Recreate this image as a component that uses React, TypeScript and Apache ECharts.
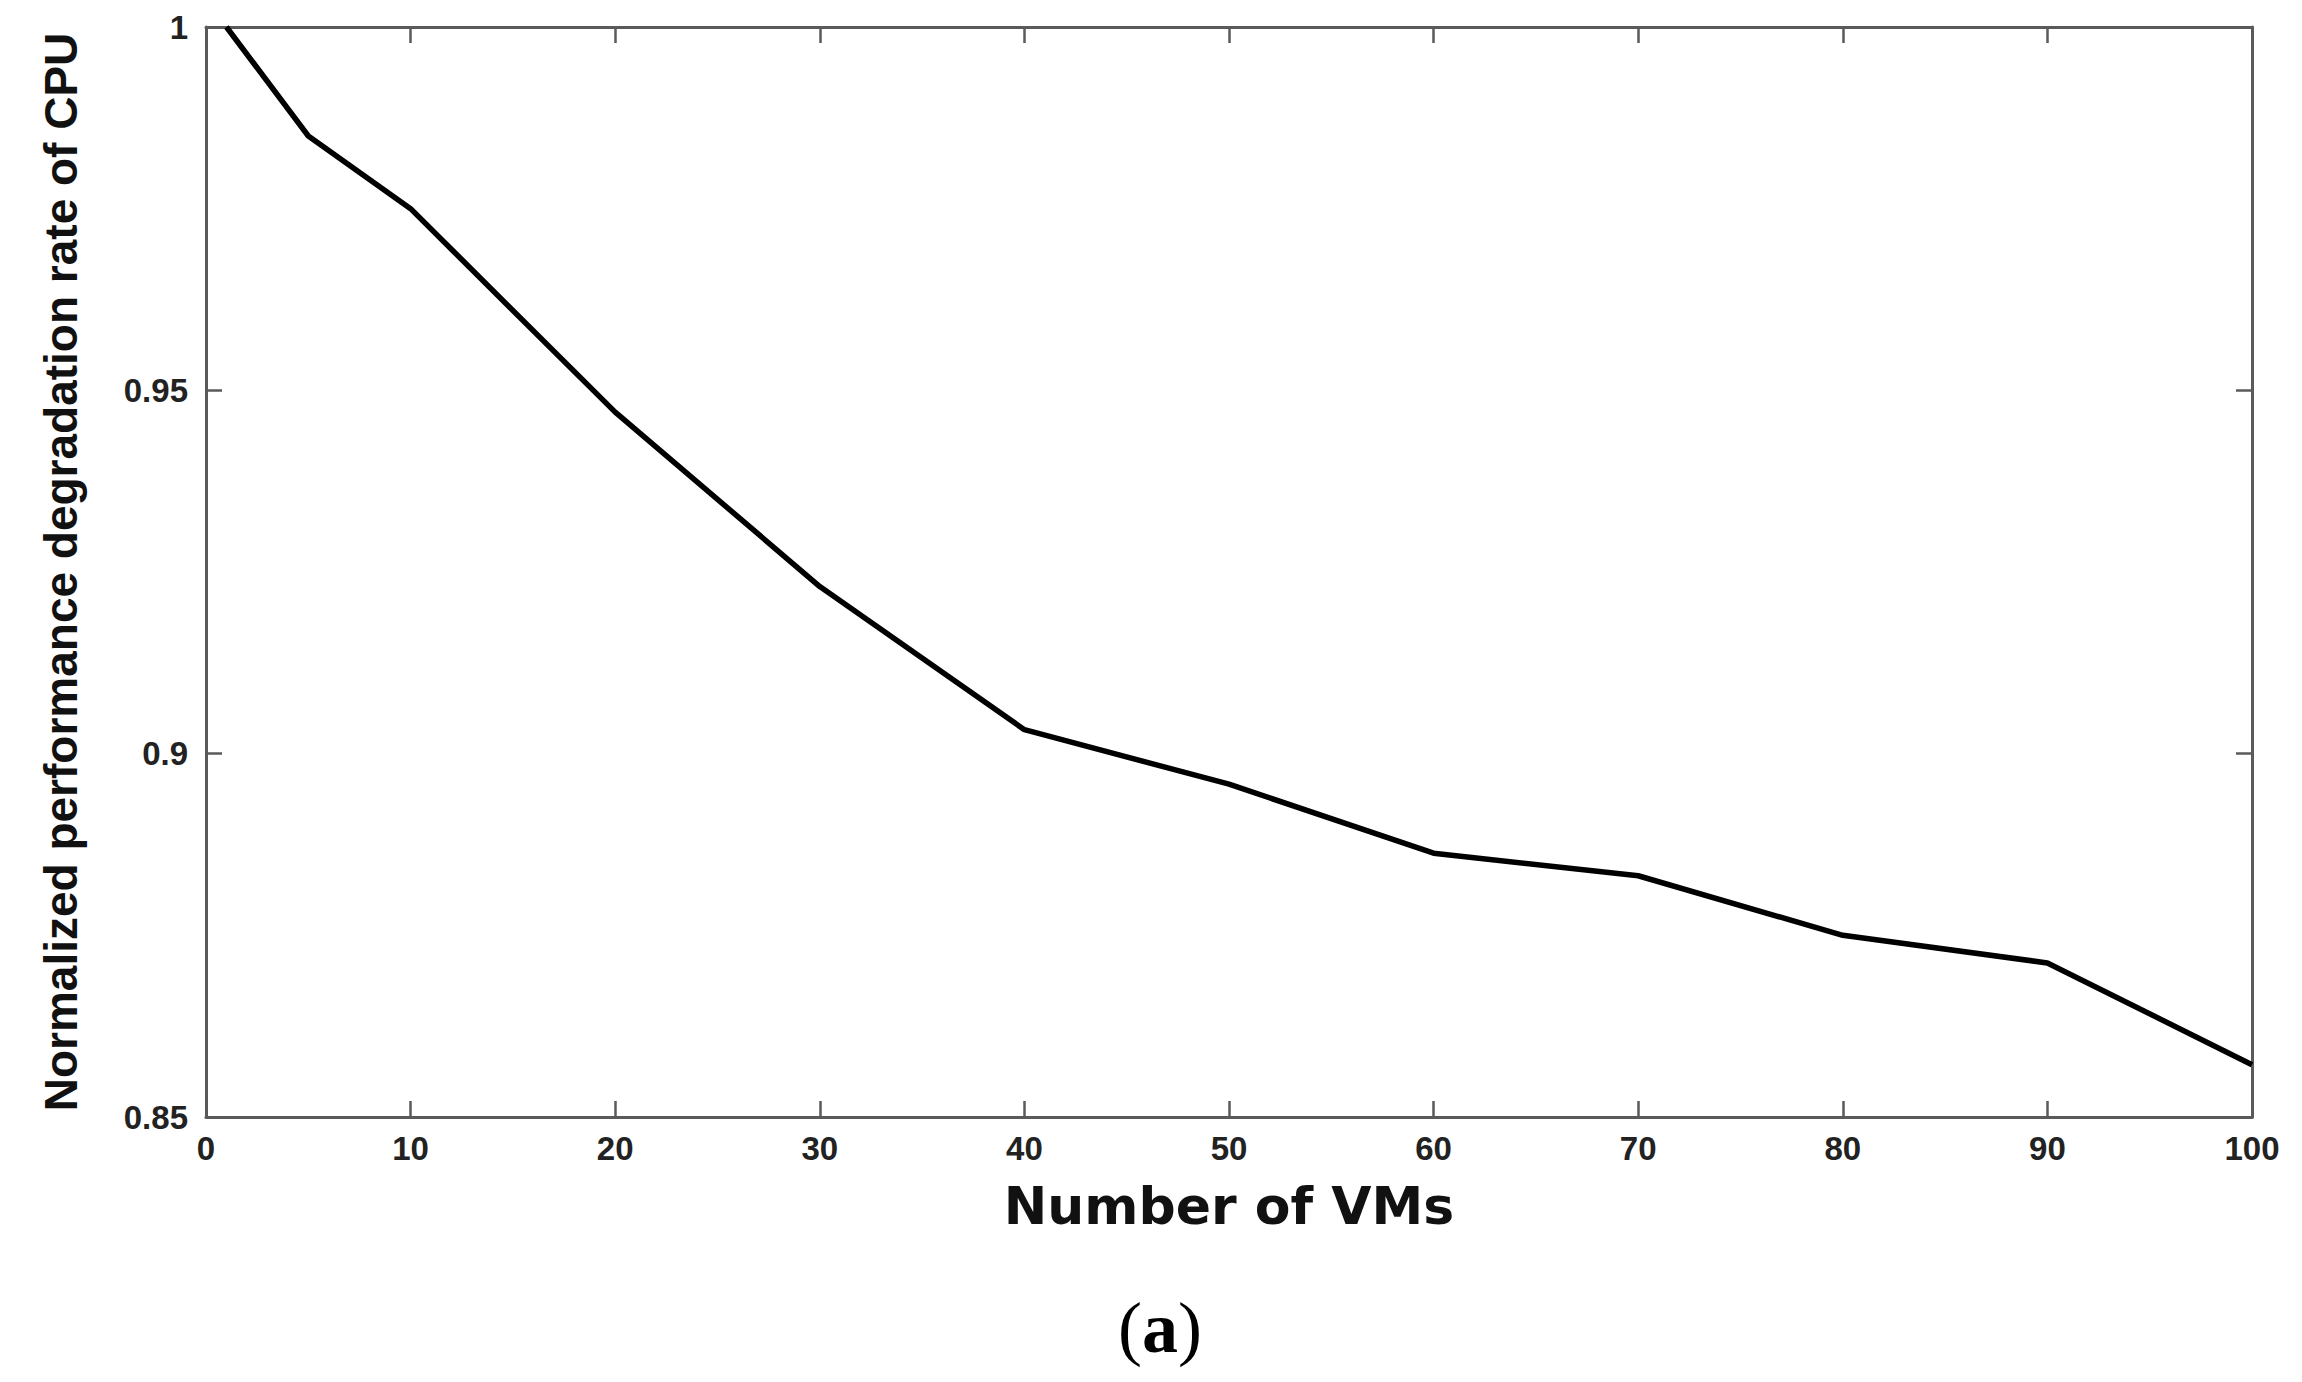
import React, { useEffect, useRef } from "react";
import * as echarts from "echarts";

// Number of VMs
const vmCounts = [1, 5, 10, 20, 30, 40, 50, 60, 70, 80, 90, 100];
// Normalized performance degradation rate of CPU
const cpuRate = [1.0, 0.985, 0.975, 0.947, 0.923, 0.9033, 0.8958, 0.8863, 0.8832, 0.875, 0.8712, 0.8572];

const xRange = { min: 0, max: 100, interval: 10 };
const yRange = { min: 0.85, max: 1, interval: 0.05 };

const xTitle = "Number of VMs";
const yTitle = "Normalized performance degradation rate of CPU";
const panelLetter = "a";

const W = 2302;
const H = 1382;

export default function App() {
  const ref = useRef<HTMLDivElement>(null);

  useEffect(() => {
    if (!ref.current) return;
    const chart = echarts.init(ref.current, null, { renderer: "svg" });
    const axisColor = "#5a5a5a";
    const labelStyle = {
      color: "#222",
      fontFamily: "Liberation Sans",
      fontWeight: "bold" as const,
      fontSize: 33,
    };
    const lineStyle = { color: axisColor, width: 3 };
    const tickStyle = { color: axisColor, width: 2.5 };

    chart.setOption({
      animation: false,
      backgroundColor: "#fff",
      grid: { left: 206, right: W - 2252, top: 27, bottom: H - 1117, containLabel: false },
      xAxis: [
        {
          type: "value",
          position: "bottom",
          ...xRange,
          name: xTitle,
          nameLocation: "middle",
          nameGap: 63,
          nameTextStyle: {
            color: "#111",
            fontFamily: "DejaVu Sans",
            fontWeight: "bold",
            fontSize: 52,
          },
          axisLine: { show: true, onZero: false, lineStyle },
          axisTick: { show: true, inside: true, length: 16, lineStyle: tickStyle },
          axisLabel: { ...labelStyle, margin: 15 },
          splitLine: { show: false },
        },
        {
          type: "value",
          position: "top",
          ...xRange,
          axisLine: { show: true, onZero: false, lineStyle },
          axisTick: { show: true, inside: true, length: 16, lineStyle: tickStyle },
          axisLabel: { show: false },
          splitLine: { show: false },
        },
      ],
      yAxis: [
        {
          type: "value",
          position: "left",
          ...yRange,
          name: yTitle,
          nameLocation: "middle",
          nameGap: 122,
          nameTextStyle: {
            color: "#111",
            fontFamily: "Liberation Sans",
            fontWeight: "bold",
            fontSize: 46,
          },
          axisLine: { show: true, onZero: false, lineStyle },
          axisTick: { show: true, inside: true, length: 16, lineStyle: tickStyle },
          axisLabel: { ...labelStyle, margin: 18 },
          splitLine: { show: false },
        },
        {
          type: "value",
          position: "right",
          ...yRange,
          axisLine: { show: true, onZero: false, lineStyle },
          axisTick: { show: true, inside: true, length: 16, lineStyle: tickStyle },
          axisLabel: { show: false },
          splitLine: { show: false },
        },
      ],
      series: [
        {
          type: "line",
          xAxisIndex: 0,
          yAxisIndex: 0,
          data: vmCounts.map((v, i) => [v, cpuRate[i]]),
          showSymbol: false,
          symbol: "none",
          lineStyle: { color: "#000", width: 5.5 },
          clip: true,
        },
      ],
      graphic: [
        {
          type: "text",
          x: 1160,
          y: 1328,
          style: {
            text: "{p|(}{b|" + panelLetter + "}{p|)}",
            fill: "#000",
            textAlign: "center",
            textVerticalAlign: "middle",
            rich: {
              p: { fontFamily: "Liberation Serif", fontSize: 72, fontWeight: "normal", fill: "#000" },
              b: { fontFamily: "Liberation Serif", fontSize: 72, fontWeight: "bold", fill: "#000" },
            },
          },
        },
      ],
    });
    return () => chart.dispose();
  }, []);

  return (
    <div
      ref={ref}
      style={{ position: "absolute", left: 0, top: 0, width: W, height: H, background: "#fff" }}
    />
  );
}
